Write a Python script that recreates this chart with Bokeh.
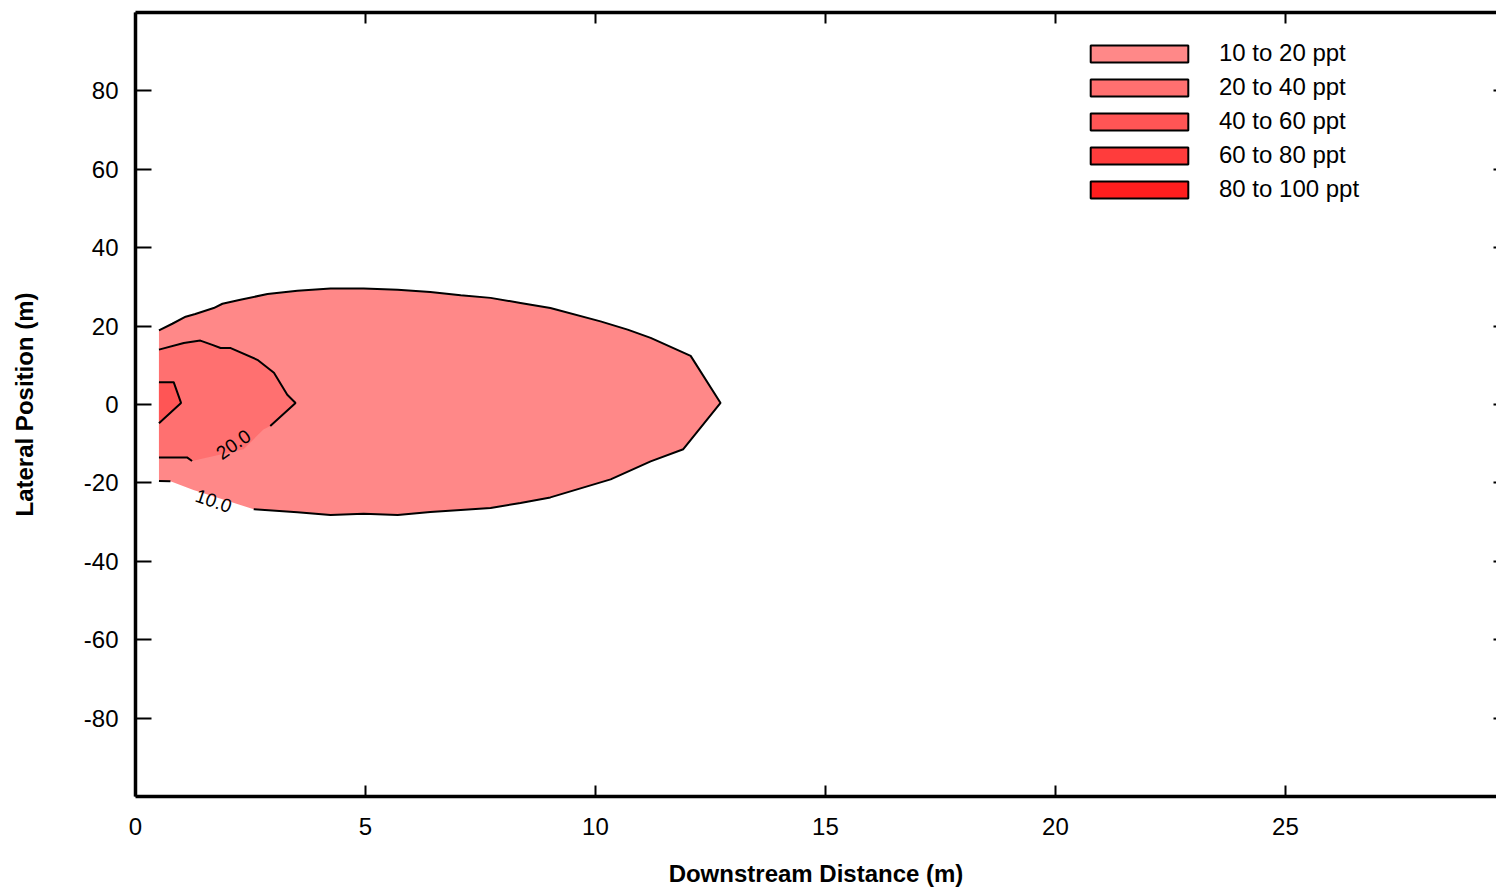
import math
from bokeh.plotting import figure
from bokeh.models import (Range1d, LinearAxis, FixedTicker, ColumnDataSource)
from bokeh.core.properties import value
from bokeh.embed import file_html
from bokeh.resources import INLINE

FONT = "Liberation Sans"

# ---------------- data ----------------
# 10 ppt contour (outer boundary of the 10-20 ppt region)
c10_x = [0.51, 0.80, 1.09, 1.30, 1.70, 1.89, 2.28, 2.87, 3.52, 4.24, 4.96, 5.70,
         6.41, 7.07, 7.72, 8.37, 9.02, 10.11, 10.70, 11.20, 12.07, 12.72,
         11.91, 11.20, 10.33, 9.02, 8.37, 7.72, 7.07, 6.41, 5.70, 4.96, 4.24,
         3.52, 2.57, 1.26, 0.76, 0.51]
c10_y = [18.9, 20.6, 22.4, 23.1, 24.6, 25.7, 26.7, 28.2, 29.0, 29.6, 29.6, 29.3,
         28.7, 27.9, 27.2, 25.9, 24.6, 21.2, 19.1, 17.0, 12.4, 0.4,
         -11.4, -14.5, -19.1, -23.7, -25.1, -26.4, -26.9, -27.4, -28.2, -27.9, -28.2,
         -27.5, -26.7, -21.8, -19.6, -19.5]
c10_gap = (34, 36)   # line is broken between these points for the label

# 20 ppt contour
c20_x = [0.51, 1.05, 1.41, 1.67, 1.85, 2.07, 2.65, 3.01, 3.30, 3.48,
         2.93, 2.78, 2.35, 1.23, 1.12, 0.51]
c20_y = [14.0, 15.7, 16.3, 15.2, 14.4, 14.4, 11.4, 8.1, 2.5, 0.4,
         -5.5, -6.4, -11.4, -14.4, -13.5, -13.5]
c20_gap = (10, 13)

# 40 ppt contour
c40_x = [0.51, 0.83, 0.99, 0.51]
c40_y = [5.7, 5.7, 0.4, -4.8]

# contour labels
lab_x = [1.70, 2.13]
lab_y = [-24.6, -10.2]
lab_text = ["10.0", "20.0"]
lab_angle_deg = [-19, 35]

# legend
legend_labels = ["10 to 20 ppt", "20 to 40 ppt", "40 to 60 ppt",
                 "60 to 80 ppt", "80 to 100 ppt"]
legend_colors = ["#FF8888", "#FF7070", "#FF5555", "#FF3C3C", "#FF1E1E"]

x_ticks = [0, 5, 10, 15, 20, 25]
y_ticks = [-80, -60, -40, -20, 0, 20, 40, 60, 80]

# ---------------- figure ----------------
p = figure(width=1496, height=890, output_backend="svg", toolbar_location=None,
           x_range=Range1d(0, 29.59), y_range=Range1d(-100, 100),
           min_border_left=135, min_border_right=0, min_border_top=12,
           min_border_bottom=94)
p.outline_line_color = None
p.xgrid.visible = False
p.ygrid.visible = False
p.background_fill_color = "white"
p.border_fill_color = "white"

# filled regions
p.patch(c10_x, c10_y, fill_color=legend_colors[0], line_color=None)
p.patch(c20_x, c20_y, fill_color=legend_colors[1], line_color=None)
p.patch(c40_x, c40_y, fill_color=legend_colors[2], line_color=None)

# contour lines (with gaps for labels)
def draw_line(xs, ys, gap=None):
    if gap is None:
        p.line(xs, ys, line_color="black", line_width=2)
    else:
        a, b = gap
        p.line(xs[:a + 1], ys[:a + 1], line_color="black", line_width=2)
        p.line(xs[b:], ys[b:], line_color="black", line_width=2)

draw_line(c10_x, c10_y, c10_gap)
draw_line(c20_x, c20_y, c20_gap)
draw_line(c40_x, c40_y)

lab_src = ColumnDataSource(dict(x=lab_x, y=lab_y, text=lab_text,
                                angle=[math.radians(a) for a in lab_angle_deg]))
p.text(x="x", y="y", text="text", angle="angle", source=lab_src,
       text_font=value(FONT), text_font_size="19px", text_color="black",
       text_align="center", text_baseline="middle")

# legend swatches: one quad per level, with no drawable extent in the plot
nan = float("nan")
n = len(legend_labels)
leg_src = ColumnDataSource(dict(label=legend_labels, color=legend_colors,
                                l=[nan] * n, r=[nan] * n, t=[nan] * n, b=[nan] * n))
p.quad(left="l", right="r", top="t", bottom="b", source=leg_src,
       fill_color="color", line_color="black", line_width=2,
       legend_field="label")

legend = p.legend[0]
legend.location = (943, 593)
legend.glyph_width = 122
legend.glyph_height = 21
legend.label_height = 21
legend.label_standoff = 19
legend.spacing = 6
legend.padding = 0
legend.margin = 0
legend.border_line_color = None
legend.background_fill_alpha = 0
legend.label_text_font = FONT
legend.label_text_font_size = "24px"
legend.label_text_color = "black"

# axes
def style_axis(ax, ticks, tick_in, labels=True):
    ax.ticker = FixedTicker(ticks=ticks)
    ax.axis_line_width = 3.5
    ax.axis_line_color = "black"
    ax.major_tick_in = tick_in
    ax.major_tick_out = 0
    ax.major_tick_line_width = 2
    ax.major_tick_line_color = "black"
    ax.minor_tick_line_color = None
    ax.major_label_text_font = FONT
    ax.major_label_text_color = "black"
    ax.major_label_text_font_size = "24px"
    if labels:
        ax.major_label_overrides = {t: str(t) for t in ticks}
    else:
        ax.major_label_overrides = {t: "" for t in ticks}
        ax.major_label_standoff = 0

xax = p.xaxis[0]
style_axis(xax, x_ticks, 11)
xax.major_label_standoff = 21
xax.axis_label = "Downstream Distance (m)"
xax.axis_label_text_font = FONT
xax.axis_label_text_font_style = "bold"
xax.axis_label_text_font_size = "24px"
xax.axis_label_text_color = "black"
xax.axis_label_standoff = 22

yax = p.yaxis[0]
style_axis(yax, y_ticks, 16)
yax.major_label_standoff = 17
yax.axis_label = "Lateral Position (m)"
yax.axis_label_text_font = FONT
yax.axis_label_text_font_style = "bold"
yax.axis_label_text_font_size = "24px"
yax.axis_label_text_color = "black"
yax.axis_label_standoff = 43

top = LinearAxis()
style_axis(top, x_ticks, 11, labels=False)
p.add_layout(top, "above")

right = LinearAxis()
style_axis(right, y_ticks, 3, labels=False)
right.axis_line_color = None
p.add_layout(right, "right")

open("out.html", "w").write(file_html(p, INLINE))
